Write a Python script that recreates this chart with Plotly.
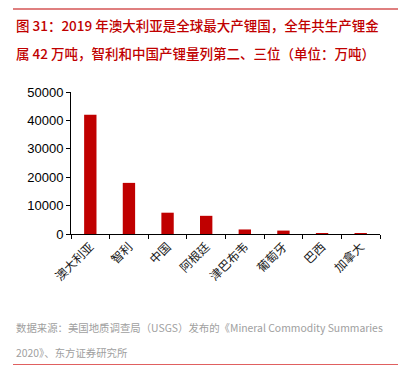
import plotly.graph_objects as go

categories = ["澳大利亚", "智利", "中国", "阿根廷", "津巴布韦", "葡萄牙", "巴西", "加拿大"]
values = [42000, 18000, 7500, 6400, 1600, 1200, 300, 200]
y_ticks = [0, 10000, 20000, 30000, 40000, 50000]

title_lines = ["图 31：2019 年澳大利亚是全球最大产锂国，全年共生产锂金",
               "属 42 万吨，智利和中国产锂量列第二、三位（单位：万吨）"]
source_lines = ["数据来源：美国地质调查局（USGS）发布的《Mineral Commodity Summaries",
                "2020》、东方证券研究所"]

RED = "#C00000"
FONT = "Noto Sans CJK SC"

W, H = 412, 368
L, T, PW, PH = 71, 92, 309, 142  # plot area in window coordinates


def px(x):
    return (x - L) / PW


def py(y):
    return 1 - (y - T) / PH


fig = go.Figure(go.Bar(x=categories, y=values, marker=dict(color=RED, line=dict(width=0)), width=0.32))

fig.update_layout(
    width=W, height=H,
    margin=dict(l=L, r=W - L - PW, t=T, b=H - T - PH),
    paper_bgcolor="white", plot_bgcolor="white",
    showlegend=False,
    font=dict(family=FONT, size=12, color="#000000"),
    xaxis=dict(showline=True, linecolor="#000000", linewidth=1, ticks="outside",
               tickson="boundaries", ticklen=4, tickcolor="#000000", tickangle=-45,
               tickfont=dict(size=12, color="#1a1a1a", family=FONT), showgrid=False,
               range=[-0.5, 7.5]),
    yaxis=dict(range=[0, 50000], tickvals=y_ticks, tickformat="d", showline=True,
               linecolor="#000000", linewidth=1, ticks="outside", ticklen=4,
               tickcolor="#000000", showgrid=False, zeroline=False,
               tickfont=dict(size=13, color="#000000", family="Liberation Sans")),
)

shapes = [
    dict(type="rect", xref="paper", yref="paper", x0=px(13), x1=px(398), y0=py(9.5), y1=py(8.5),
         fillcolor=RED, line=dict(width=0)),
]
fig.update_layout(shapes=shapes)

# bottom rule drawn as a thin filled annotation box
fig.add_annotation(text=" ", xref="paper", yref="paper", x=px(13), y=py(364),
                   xanchor="left", yanchor="middle", showarrow=False,
                   width=385, height=1, borderpad=0, borderwidth=0,
                   bgcolor="#E06060", font=dict(size=1))

for i, t in enumerate(title_lines):
    fig.add_annotation(text=t, xref="paper", yref="paper", x=px(14), y=py(25 + 28 * i),
                       xanchor="left", yanchor="middle", showarrow=False,
                       font=dict(family=FONT, size=13.5, color=RED, weight=500))
for i, t in enumerate(source_lines):
    fig.add_annotation(text=t, xref="paper", yref="paper", x=px(14), y=py(327 + 25 * i),
                       xanchor="left", yanchor="middle", showarrow=False,
                       font=dict(family=FONT, size=10.4, color="#a0a0a0"))

fig.write_html(
    "out.html",
    config={"displayModeBar": False},
    post_script="document.body.style.margin='0';document.body.style.overflow='hidden';",
)
